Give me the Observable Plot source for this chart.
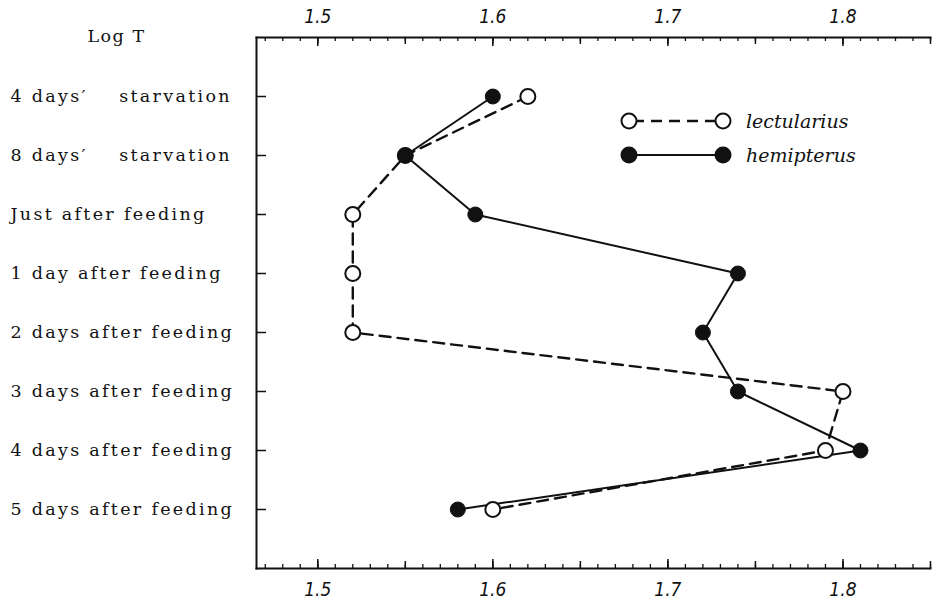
<!DOCTYPE html>
<html>
<head>
<meta charset="utf-8">
<script src="https://cdn.jsdelivr.net/npm/d3@7"></script>
<script src="https://cdn.jsdelivr.net/npm/@observablehq/plot@0.6"></script>
<style>
  html, body { margin: 0; padding: 0; background: #fff; }
  #wrap { position: relative; width: 933px; height: 603px; overflow: hidden; }
  #legend { position: absolute; left: 614px; top: 104px; font-family: "DejaVu Serif", serif; font-style: italic; font-size: 19px; color: #111; }
  #legend .item { display: flex; align-items: center; height: 34px; }
  #legend svg { margin-right: 12px; }
  .rowlab text { white-space: pre; letter-spacing: 2.3px; }
  .loglab text { white-space: pre; letter-spacing: 1.5px; }
</style>
</head>
<body>
<div id="wrap"></div>
<script>
// Categories (rows, top to bottom)
const stages = [
  "4 days\u2032    starvation",
  "8 days\u2032    starvation",
  "Just after feeding",
  "1 day after feeding",
  "2 days after feeding",
  "3 days after feeding",
  "4 days after feeding",
  "5 days after feeding"
];
// Log T values
const lectularius = [1.62, 1.55, 1.52, 1.52, 1.52, 1.80, 1.79, 1.60];
const hemipterus  = [1.60, 1.55, 1.59, 1.74, 1.72, 1.74, 1.81, 1.58];
// Axis
const xTickLabels = [1.5, 1.6, 1.7, 1.8];
const xDomain = [1.465, 1.85];
const yLabel = "Log T";
const seriesNames = ["lectularius", "hemipterus"];

const lec = stages.map((s, i) => ({stage: s, logT: lectularius[i]}));
const hem = stages.map((s, i) => ({stage: s, logT: hemipterus[i]}));

const W = 933, H = 603, mL = 256, mR = 3, mT = 37, mB = 35;
const frameW = W - mL - mR, frameH = H - mT - mB;
const ink = "#111";
const minor = d3.range(147, 186).map(v => v / 100);
const mid = minor.filter(v => Math.round(v * 100) % 5 === 0);
const major = minor.filter(v => Math.round(v * 100) % 10 === 0);

const chart = Plot.plot({
  width: W, height: H,
  marginLeft: mL, marginRight: mR, marginTop: mT, marginBottom: mB,
  style: {background: "#fff", color: ink, overflow: "visible"},
  x: {domain: xDomain, axis: null},
  y: {type: "point", domain: stages, padding: 1, axis: null},
  marks: [
    Plot.frame({anchor: "left", stroke: ink, strokeWidth: 2}),
    Plot.frame({anchor: "top", stroke: ink, strokeWidth: 2}),
    Plot.frame({anchor: "bottom", stroke: ink, strokeWidth: 2}),
    // top ticks (inward)
    Plot.tickX(minor, {x: d => d, insetBottom: frameH - 4, stroke: ink, strokeWidth: 1.3}),
    Plot.tickX(mid, {x: d => d, insetBottom: frameH - 7, stroke: ink, strokeWidth: 1.5}),
    Plot.tickX(major, {x: d => d, insetBottom: frameH - 9, stroke: ink, strokeWidth: 1.5}),
    // bottom ticks (inward)
    Plot.tickX(minor, {x: d => d, insetTop: frameH - 4, stroke: ink, strokeWidth: 1.3}),
    Plot.tickX(mid, {x: d => d, insetTop: frameH - 7, stroke: ink, strokeWidth: 1.5}),
    Plot.tickX(major, {x: d => d, insetTop: frameH - 9, stroke: ink, strokeWidth: 1.5}),
    // left ticks
    Plot.tickY(stages, {y: d => d, insetRight: frameW - 10, stroke: ink, strokeWidth: 1.5}),
    // x tick labels
    Plot.axisX({anchor: "top", ticks: xTickLabels, tickSize: 0, tickPadding: 15, label: null,
      tickFormat: d3.format(".1f"), fontSize: 19, fontStyle: "italic",
      fontFamily: "'Liberation Sans Narrow', 'DejaVu Sans Condensed', sans-serif"}),
    Plot.axisX({anchor: "bottom", ticks: xTickLabels, tickSize: 0, tickPadding: 14, label: null,
      tickFormat: d3.format(".1f"), fontSize: 19, fontStyle: "italic",
      fontFamily: "'Liberation Sans Narrow', 'DejaVu Sans Condensed', sans-serif"}),
    // row labels
    Plot.text(stages, {y: d => d, text: d => d, frameAnchor: "left", textAnchor: "start", dx: -246,
      fontSize: 17.5, fontFamily: "'DejaVu Serif', serif", fill: ink, className: "rowlab"}),
    Plot.text([yLabel], {text: d => d, frameAnchor: "top-left", textAnchor: "middle", dx: -140, dy: -8,
      fontSize: 17.5, fontFamily: "'DejaVu Serif', serif", fill: ink, className: "loglab"}),
    // series
    Plot.line(lec, {x: "logT", y: "stage", stroke: ink, strokeWidth: 2.4, strokeDasharray: "11,7"}),
    Plot.line(hem, {x: "logT", y: "stage", stroke: ink, strokeWidth: 2}),
    Plot.dot(lec, {x: "logT", y: "stage", r: 7.5, fill: "#fff", stroke: ink, strokeWidth: 2}),
    Plot.dot(hem, {x: "logT", y: "stage", r: 7.5, fill: ink, stroke: ink, strokeWidth: 1})
  ]
});

const wrap = document.getElementById("wrap");
wrap.appendChild(chart);

// Legend overlay
const legend = document.createElement("div");
legend.id = "legend";
const sym = (dashed, filled) => `<svg width="120" height="20" viewBox="0 0 120 20">
  <line x1="15" y1="10" x2="109" y2="10" stroke="${ink}" stroke-width="${dashed ? 2.4 : 2}" ${dashed ? 'stroke-dasharray="11,7" stroke-dashoffset="-4"' : ''}/>
  <circle cx="15" cy="10" r="7.5" fill="${filled ? ink : '#fff'}" stroke="${ink}" stroke-width="2"/>
  <circle cx="109" cy="10" r="7.5" fill="${filled ? ink : '#fff'}" stroke="${ink}" stroke-width="2"/>
</svg>`;
legend.innerHTML = `<div class="item">${sym(true, false)}<span>${seriesNames[0]}</span></div>
<div class="item">${sym(false, true)}<span>${seriesNames[1]}</span></div>`;
wrap.appendChild(legend);
</script>
</body>
</html>
